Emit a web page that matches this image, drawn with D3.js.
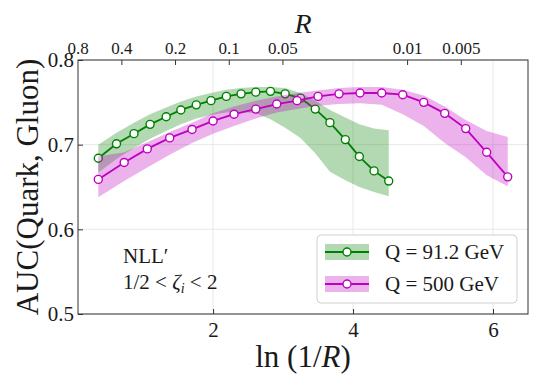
<!DOCTYPE html>
<html>
<head>
<meta charset="utf-8">
<script src="https://cdn.jsdelivr.net/npm/d3@7"></script>
<style>
  body { margin: 0; background: white; }
</style>
</head>
<body>
<div id="chart"></div>
<script>
// ln(1/R) positions and AUC values
const lnInvR_91 = [0.36, 0.62, 0.87, 1.10, 1.33, 1.54, 1.76, 1.97, 2.19, 2.40, 2.61, 2.82, 3.03, 3.25, 3.46, 3.67, 3.89, 4.09, 4.30, 4.51];
const auc_91    = [0.684, 0.701, 0.713, 0.724, 0.733, 0.741, 0.747, 0.752, 0.757, 0.760, 0.762, 0.763, 0.760, 0.755, 0.742, 0.726, 0.706, 0.686, 0.669, 0.657];
const auc_91_hi = [0.700, 0.714, 0.726, 0.736, 0.744, 0.751, 0.757, 0.761, 0.765, 0.767, 0.768, 0.768, 0.767, 0.761, 0.752, 0.741, 0.732, 0.724, 0.719, 0.717];
const auc_91_lo = [0.667, 0.683, 0.696, 0.707, 0.716, 0.724, 0.731, 0.735, 0.738, 0.739, 0.737, 0.730, 0.720, 0.708, 0.690, 0.668, 0.658, 0.650, 0.644, 0.639];

const lnInvR_500 = [0.36, 0.73, 1.06, 1.38, 1.70, 2.00, 2.30, 2.61, 2.91, 3.20, 3.50, 3.80, 4.10, 4.41, 4.71, 5.01, 5.31, 5.61, 5.91, 6.21];
const auc_500    = [0.659, 0.679, 0.695, 0.708, 0.718, 0.728, 0.736, 0.742, 0.748, 0.752, 0.757, 0.760, 0.761, 0.761, 0.759, 0.750, 0.737, 0.719, 0.691, 0.662];
const auc_500_hi = [0.686, 0.691, 0.703, 0.715, 0.726, 0.737, 0.745, 0.752, 0.757, 0.761, 0.764, 0.767, 0.768, 0.768, 0.765, 0.758, 0.745, 0.729, 0.716, 0.709];
const auc_500_lo = [0.638, 0.657, 0.673, 0.688, 0.702, 0.713, 0.722, 0.731, 0.738, 0.742, 0.746, 0.748, 0.749, 0.747, 0.736, 0.722, 0.702, 0.685, 0.664, 0.651];

const seriesLabels = ["Q = 91.2 GeV", "Q = 500 GeV"];
const xTicks = [2, 4, 6];
const yTicks = [0.5, 0.6, 0.7, 0.8];
const topTicks = [0.8, 0.4, 0.2, 0.1, 0.05, 0.01, 0.005];

const serif = "'Liberation Serif', 'Times New Roman', Tinos, 'DejaVu Serif', serif";

const width = 540, height = 386;
const margin = {top: 60, right: 12, bottom: 72, left: 78};

const svg = d3.select("#chart").append("svg")
    .attr("width", width)
    .attr("height", height)
    .attr("font-family", serif);

const x = d3.scaleLinear().domain([0.07, 6.5]).range([margin.left, width - margin.right]);
const y = d3.scaleLinear().domain([0.5, 0.8]).range([height - margin.bottom, margin.top]);
// top axis in R (log), as it sits in the original figure
const xTop = d3.scaleLog().domain([0.7, 0.0021]).range([margin.left, width - margin.right]);

// grid
svg.append("g")
    .selectAll("line")
    .data(xTicks)
    .enter().append("line")
    .attr("x1", d => x(d)).attr("x2", d => x(d))
    .attr("y1", y(0.5)).attr("y2", y(0.8))
    .attr("stroke", "#e8e8e8");
svg.append("g")
    .selectAll("line")
    .data(yTicks)
    .enter().append("line")
    .attr("x1", x.range()[0]).attr("x2", x.range()[1])
    .attr("y1", d => y(d)).attr("y2", d => y(d))
    .attr("stroke", "#e8e8e8");

const series = [
    {xs: lnInvR_91, ys: auc_91, lo: auc_91_lo, hi: auc_91_hi, color: "#008000", fill: "rgba(0,128,0,0.3)", label: seriesLabels[0]},
    {xs: lnInvR_500, ys: auc_500, lo: auc_500_lo, hi: auc_500_hi, color: "#bf00bf", fill: "rgba(191,0,191,0.3)", label: seriesLabels[1]}
];

const area = d3.area()
    .x(d => x(d.x)).y0(d => y(d.lo)).y1(d => y(d.hi));
const line = d3.line()
    .x(d => x(d.x)).y(d => y(d.y));

series.forEach(s => {
    const pts = s.xs.map((v, i) => ({x: v, y: s.ys[i], lo: s.lo[i], hi: s.hi[i]}));
    svg.append("path")
        .datum(pts)
        .attr("d", area)
        .attr("fill", s.fill);
    svg.append("path")
        .datum(pts)
        .attr("d", line)
        .attr("fill", "none")
        .attr("stroke", s.color)
        .attr("stroke-width", 1.8);
    svg.append("g")
        .selectAll("circle")
        .data(pts)
        .enter().append("circle")
        .attr("cx", d => x(d.x))
        .attr("cy", d => y(d.y))
        .attr("r", 4)
        .attr("fill", "white")
        .attr("stroke", s.color)
        .attr("stroke-width", 1.4);
});

// axes (ticks point inward)
const bottomAxis = svg.append("g")
    .attr("transform", `translate(0,${y(0.5)})`)
    .call(d3.axisBottom(x).tickValues(xTicks).tickSize(-5).tickPadding(8).tickFormat(d3.format("d")));
const leftAxis = svg.append("g")
    .attr("transform", `translate(${x.range()[0]},0)`)
    .call(d3.axisLeft(y).tickValues(yTicks).tickSize(-5).tickPadding(4).tickFormat(d3.format(".1f")));
const topAxis = svg.append("g")
    .attr("transform", `translate(0,${y(0.8)})`)
    .call(d3.axisTop(xTop).tickValues(topTicks).tickSize(-5).tickPadding(6).tickFormat(d => String(d)));

[bottomAxis, leftAxis, topAxis].forEach(g => {
    g.attr("font-family", serif);
    g.select(".domain").remove();
    g.selectAll(".tick line").attr("stroke", "#333");
    g.selectAll(".tick text").attr("fill", "#1a1a1a");
});
bottomAxis.attr("font-size", 21);
leftAxis.attr("font-size", 21);
topAxis.attr("font-size", 17);
// out-of-range top tick: keep the label at the frame edge, drop the mark
topAxis.selectAll(".tick")
    .filter(d => xTop(d) < margin.left)
    .attr("transform", `translate(${margin.left},0)`)
    .select("line").remove();

// frame
svg.append("rect")
    .attr("x", x.range()[0]).attr("y", y(0.8))
    .attr("width", x.range()[1] - x.range()[0])
    .attr("height", y(0.5) - y(0.8))
    .attr("fill", "none")
    .attr("stroke", "#333")
    .attr("stroke-width", 1);

// axis titles
svg.append("text")
    .attr("x", (x.range()[0] + x.range()[1]) / 2)
    .attr("y", 367)
    .attr("text-anchor", "middle")
    .attr("font-size", 31)
    .attr("fill", "#1a1a1a")
    .html('ln (1/<tspan font-style="italic">R</tspan>)');
svg.append("text")
    .attr("x", (x.range()[0] + x.range()[1]) / 2)
    .attr("y", 33)
    .attr("text-anchor", "middle")
    .attr("font-size", 28)
    .attr("font-style", "italic")
    .attr("fill", "#1a1a1a")
    .text("R");
svg.append("text")
    .attr("transform", `translate(38,${(y(0.5) + y(0.8)) / 2}) rotate(-90)`)
    .attr("text-anchor", "middle")
    .attr("font-size", 31)
    .attr("fill", "#1a1a1a")
    .text("AUC(Quark, Gluon)");

// annotation
svg.append("text")
    .attr("x", 123).attr("y", 263)
    .attr("font-size", 21)
    .attr("fill", "#1a1a1a")
    .text("NLL\u2032");
svg.append("text")
    .attr("x", 123).attr("y", 289)
    .attr("font-size", 21)
    .attr("fill", "#1a1a1a")
    .html('1/2 &lt; <tspan font-style="italic">ζ</tspan><tspan font-style="italic" font-size="14" dy="4">i</tspan><tspan dy="-4"> &lt; 2</tspan>');

// legend
const legend = svg.append("g")
    .attr("transform", "translate(317,235)");
legend.append("rect")
    .attr("width", 200).attr("height", 68)
    .attr("rx", 4)
    .attr("fill", "rgba(255,255,255,0.85)")
    .attr("stroke", "#d0d0d0");

series.forEach((s, idx) => {
    const item = legend.append("g")
        .attr("transform", `translate(0,${17 + idx * 32})`);
    item.append("rect")
        .attr("x", 8).attr("y", -8)
        .attr("width", 44).attr("height", 16)
        .attr("fill", s.fill);
    item.append("line")
        .attr("x1", 8).attr("x2", 52)
        .attr("stroke", s.color)
        .attr("stroke-width", 1.8);
    item.append("circle")
        .attr("cx", 30).attr("r", 4)
        .attr("fill", "white")
        .attr("stroke", s.color)
        .attr("stroke-width", 1.4);
    item.append("text")
        .attr("x", 68)
        .attr("dy", "0.35em")
        .attr("font-size", 21)
        .attr("fill", "#1a1a1a")
        .text(s.label);
});
</script>
</body>
</html>
